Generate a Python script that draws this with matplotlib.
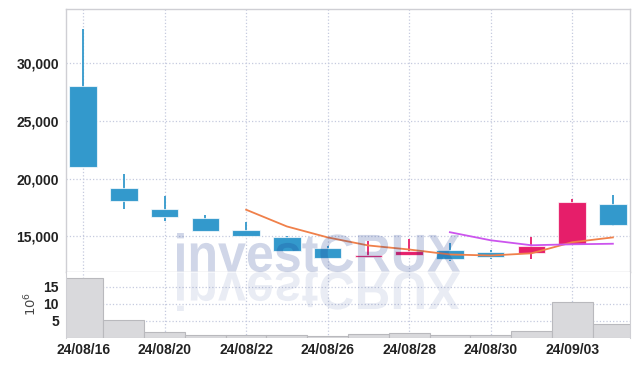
import matplotlib
matplotlib.use('Agg')
import matplotlib.pyplot as plt
import numpy as np
from matplotlib.textpath import TextPath
from matplotlib.font_manager import FontProperties
from matplotlib.patches import PathPatch
from matplotlib.transforms import Affine2D, IdentityTransform
from matplotlib.ticker import FuncFormatter, FixedLocator

# ---------------- data ----------------
dates = ['24/08/16', '24/08/19', '24/08/20', '24/08/21', '24/08/22', '24/08/23', '24/08/26',
         '24/08/27', '24/08/28', '24/08/29', '24/08/30', '24/09/02', '24/09/03', '24/09/04']
opens = [28000, 19150, 17400, 16550, 15500, 14900, 14000, 13200, 13350, 13800, 13600, 13550, 14300, 17800]
highs = [33000, 20400, 18450, 16850, 16250, 15050, 14150, 14550, 14750, 14450, 13850, 14950, 18250, 18600]
lows = [21000, 17400, 16350, 15450, 15000, 13750, 13100, 13200, 13350, 12850, 13050, 13000, 14200, 15900]
closes = [21000, 18050, 16700, 15450, 15000, 13750, 13100, 13400, 13700, 13050, 13200, 14150, 18000, 15950]
volumes = [17.7, 5.3, 1.66, 0.77, 0.65, 0.65, 0.47, 1.07, 1.45, 0.77, 0.77, 1.96, 10.56, 4.04]
ma5 = [np.nan, np.nan, np.nan, np.nan, 17300, 15850, 14900, 14200, 13850, 13420, 13330, 13520, 14480, 14900]
ma10 = [np.nan] * 9 + [15350, 14650, 14220, 14300, 14350]
price_ticks = [15000, 20000, 25000, 30000]
vol_ticks = [5, 10, 15]
xtick_idx = [0, 2, 4, 6, 8, 10, 12]

# ---------------- style ----------------
UP = '#e61e6a'
DOWN = '#3399cc'
GRID = '#c5cadf'
SPINE = '#cfcfd4'
FONT = ['Liberation Sans', 'DejaVu Sans']
plt.rcParams['font.family'] = FONT
TICK_FS = 10

W, H = 639, 366
fig = plt.figure(figsize=(W / 100, H / 100), dpi=100)
L, R = 66 / W, 630 / W
ax = fig.add_axes([L, 1 - 272 / H, R - L, (272 - 9) / H])
ax2 = fig.add_axes([L, 1 - 337.5 / H, R - L, (337.5 - 272) / H], sharex=ax)

x = np.arange(len(dates))
o = np.array(opens); c = np.array(closes)
cols = [UP if cc >= oo else DOWN for oo, cc in zip(o, c)]

ax.vlines(x, lows, highs, colors=cols, linewidth=1.3, zorder=2)
ax.bar(x, np.maximum(np.abs(c - o), 80), bottom=np.minimum(o, c), width=0.68,
       color=cols, edgecolor=(1, 1, 1, 0.7), linewidth=0.8, zorder=3)
ax.plot(x, ma5, color='#f0804a', linewidth=1.3, zorder=4)
ax.plot(x, ma10, color='#cc55ee', linewidth=1.3, zorder=4)

ax.set_xlim(-0.42, len(dates) - 1 + 0.42)
ax.set_ylim(11900, 34700)
ax.yaxis.set_major_locator(FixedLocator(price_ticks))
ax.yaxis.set_major_formatter(FuncFormatter(lambda v, p: f'{v:,.0f}'))
ax.xaxis.set_major_locator(FixedLocator(xtick_idx))
ax.tick_params(axis='x', labelbottom=False, length=0)
ax.tick_params(axis='y', length=0, pad=5, labelsize=TICK_FS, labelcolor='#222222')
for lab in ax.get_yticklabels():
    lab.set_fontweight('bold')
ax.grid(True, color=GRID, linestyle=':', linewidth=0.9)
ax.set_axisbelow(True)
for s in ax.spines.values():
    s.set_color(SPINE)
    s.set_linewidth(1.0)

ax2.bar(x, volumes, width=1.0, color='#d9d9dc', edgecolor='#b9b9bd', linewidth=0.8, zorder=2)
ax2.set_ylim(0, 19.4)
ax2.yaxis.set_major_locator(FixedLocator(vol_ticks))
ax2.set_xticks(xtick_idx)
ax2.set_xticklabels([dates[i] for i in xtick_idx])
ax2.tick_params(axis='both', length=0, labelsize=TICK_FS, labelcolor='#222222')
ax2.tick_params(axis='y', pad=5)
ax2.tick_params(axis='x', pad=4)
for lab in ax2.get_yticklabels() + ax2.get_xticklabels():
    lab.set_fontweight('bold')
ax2.grid(True, color=GRID, linestyle=':', linewidth=0.9)
ax2.set_axisbelow(True)
for k, s in ax2.spines.items():
    s.set_color(SPINE)
ax2.spines['top'].set_visible(False)
ax2.spines['bottom'].set_visible(False)

fig.text(31 / W, 1 - 304 / H, r'$10^6$', rotation=90, ha='center', va='center',
         fontsize=9.5, color='#444444', family='DejaVu Sans')

# ---------------- watermark ----------------
tp = TextPath((0, 0), 'investCRUX', size=50,
              prop=FontProperties(family=['Liberation Sans', 'DejaVu Sans'], weight='bold'))
ext = tp.get_extents()
x0, x1 = 177, 460
ytop, ybase = 233, 272
sx = (x1 - x0) / ext.width
sy = (ybase - ytop) / ext.height
base_disp = H - ybase
up = Affine2D().translate(-ext.x0, -ext.y0).scale(sx, sy).translate(x0, base_disp)
dn = Affine2D().translate(-ext.x0, -ext.y0).scale(sx, -sy).translate(x0, base_disp)
fig.add_artist(PathPatch(up.transform_path(tp), transform=IdentityTransform(),
                         facecolor=(0.08, 0.2, 0.55, 0.2), edgecolor='none', zorder=10))
fig.add_artist(PathPatch(dn.transform_path(tp), transform=IdentityTransform(),
                         facecolor=(0.08, 0.2, 0.55, 0.09), edgecolor='none', zorder=10))

fig.savefig('out.png', dpi=100)
